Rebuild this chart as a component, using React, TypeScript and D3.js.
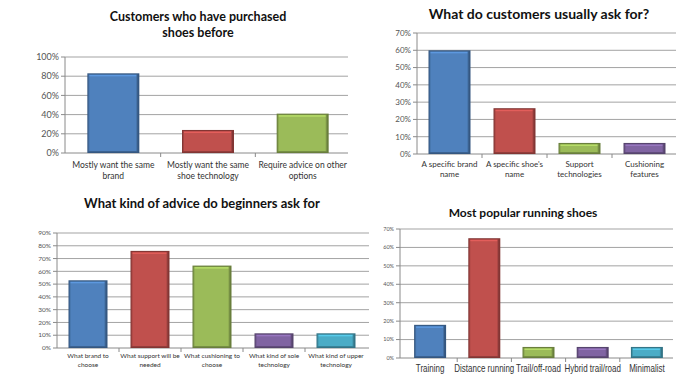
import React from "react";
import * as d3 from "d3";

// ---------- DATA ----------
const p1Title = ["Customers who have purchased", "shoes before"];
const p1Categories = ["Mostly want the same\nbrand", "Mostly want the same\nshoe technology", "Require advice on other\noptions"];
const p1Values = [0.83, 0.24, 0.41];
const p1Ticks = [0, 0.2, 0.4, 0.6, 0.8, 1.0];

const p2Title = ["What do customers usually ask for?"];
const p2Categories = ["A specific brand\nname", "A specific shoe's\nname", "Support\ntechnologies", "Cushioning\nfeatures"];
const p2Values = [0.6, 0.265, 0.064, 0.064];
const p2Ticks = [0, 0.1, 0.2, 0.3, 0.4, 0.5, 0.6, 0.7];

const p3Title = ["What kind of advice do beginners ask for"];
const p3Categories = ["What brand to\nchoose", "What support will be\nneeded", "What cushioning to\nchoose", "What kind of sole\ntechnology", "What kind of upper\ntechnology"];
const p3Values = [0.53, 0.76, 0.645, 0.115, 0.115];
const p3Ticks = [0, 0.1, 0.2, 0.3, 0.4, 0.5, 0.6, 0.7, 0.8, 0.9];

const p4Title = ["Most popular running shoes"];
const p4Categories = ["Training", "Distance running", "Trail/off-road", "Hybrid trail/road", "Minimalist"];
const p4Values = [0.18, 0.65, 0.06, 0.06, 0.06];
const p4Ticks = [0, 0.1, 0.2, 0.3, 0.4, 0.5, 0.6, 0.7];

const palette = ["#4F81BD", "#C0504D", "#9BBB59", "#8064A2", "#4BACC6"];

type PanelProps = {
  title: string[];
  categories: string[];
  values: number[];
  ticks: number[];
  colors: string[];
  axisX: number;
  bandRange: [number, number];
  gridRight: number;
  yRange: [number, number]; // [bottom, top]
  barWidth: number;
  tickFont: number;
  catFont: number;
  catBaseline: number;
  catLineGap: number;
  catFamily?: string;
  catScaleX?: number;
  titleX: number;
  titleBaseline: number;
  titleFont: number;
  titleLineGap: number;
};

function Bar({ x, y, w, h, color }: { x: number; y: number; w: number; h: number; color: string }) {
  const dark = d3.color(color)!.darker(1.1).formatHex();
  const mid = d3.color(color)!.darker(0.45).formatHex();
  const light = d3.color(color)!.brighter(0.6).formatHex();
  return (
    <g>
      <rect x={x} y={y} width={w} height={h} fill={dark} />
      <rect x={x + 1} y={y + 1} width={Math.max(0, w - 3)} height={Math.max(0, h - 2.5)} fill={mid} />
      <rect x={x + 2} y={y + 2} width={Math.max(0, w - 5)} height={Math.max(0, h - 4)} fill={color} />
      <rect x={x + 2} y={y + 1.5} width={Math.max(0, w - 5)} height={1.5} fill={light} opacity={0.8} />
    </g>
  );
}

function Panel(p: PanelProps) {
  const maxV = p.ticks[p.ticks.length - 1];
  const y = d3.scaleLinear().domain([0, maxV]).range(p.yRange);
  const x = d3.scaleBand<string>().domain(p.categories).range(p.bandRange).paddingInner(0).paddingOuter(0);
  const fmt = d3.format(".0%");
  const base = p.yRange[0];
  const fam = p.catFamily || "Lato, 'Open Sans', sans-serif";
  return (
    <g>
      {p.title.map((t, i) => (
        <text key={i} x={p.titleX} y={p.titleBaseline + i * p.titleLineGap} textAnchor="middle"
          fontFamily="Lato, 'Open Sans', sans-serif" fontWeight="bold" fontSize={p.titleFont} fill="#111">
          {t}
        </text>
      ))}
      {p.ticks.map((t) => (
        <g key={t}>
          {t > 0 && <line x1={p.axisX} x2={p.gridRight} y1={y(t)} y2={y(t)} stroke="#a3a3a3" strokeWidth={1} />}
          <line x1={p.axisX - 4} x2={p.axisX} y1={y(t)} y2={y(t)} stroke="#8a8a8a" strokeWidth={1} />
          <text x={p.axisX - 6} y={y(t)} dy="0.35em" textAnchor="end" fontFamily="Lato, 'Open Sans', sans-serif"
            fontSize={p.tickFont} fill="#555">
            {fmt(t)}
          </text>
        </g>
      ))}
      <line x1={p.axisX} x2={p.axisX} y1={y(maxV)} y2={base} stroke="#8a8a8a" strokeWidth={1} />
      <line x1={p.axisX} x2={p.gridRight} y1={base} y2={base} stroke="#8a8a8a" strokeWidth={1} />
      {p.categories.map((c, i) => {
        const bx = x(c)!;
        return i > 0 ? (
          <line key={"tk" + i} x1={bx} x2={bx} y1={base} y2={base + 4} stroke="#8a8a8a" strokeWidth={1} />
        ) : null;
      })}
      {p.categories.map((c, i) => {
        const cx = x(c)! + x.bandwidth() / 2;
        const top = y(p.values[i]);
        return <Bar key={"b" + i} x={cx - p.barWidth / 2} y={top} w={p.barWidth} h={base - top} color={p.colors[i]} />;
      })}
      {p.categories.map((c, i) => {
        const cx = x(c)! + x.bandwidth() / 2;
        const lines = c.split("\n");
        const sx = p.catScaleX || 1;
        return (
          <text key={"c" + i} transform={`translate(${cx},0) scale(${sx},1)`} textAnchor="middle"
            fontFamily={fam} fontSize={p.catFont} fill="#333">
            {lines.map((l, j) => (
              <tspan key={j} x={0} y={p.catBaseline + j * p.catLineGap}>{l}</tspan>
            ))}
          </text>
        );
      })}
    </g>
  );
}

export default function App() {
  return (
    <div style={{ position: "absolute", left: 0, top: 0, width: 696, height: 380, background: "#fff" }}>
      <svg width={696} height={380} style={{ display: "block" }}>
        <rect width={696} height={380} fill="#fff" />
        <Panel title={p1Title} categories={p1Categories} values={p1Values} ticks={p1Ticks} colors={palette}
          axisX={65} bandRange={[66, 350]} gridRight={348} yRange={[153, 57]} barWidth={52}
          tickFont={9} catFont={8.5} catBaseline={168} catLineGap={10.5}
          titleX={198} titleBaseline={21} titleFont={12.5} titleLineGap={16} />
        <Panel title={p2Title} categories={p2Categories} values={p2Values} ticks={p2Ticks} colors={[palette[0], palette[1], palette[2], palette[3]]}
          axisX={417} bandRange={[417, 677]} gridRight={676} yRange={[154, 33]} barWidth={42}
          tickFont={8} catFont={8} catBaseline={167} catLineGap={9.5}
          titleX={539} titleBaseline={19} titleFont={14} titleLineGap={16} />
        <Panel title={p3Title} categories={p3Categories} values={p3Values} ticks={p3Ticks} colors={palette}
          axisX={57} bandRange={[57, 367]} gridRight={369} yRange={[348, 233]} barWidth={39}
          tickFont={6.5} catFont={6.5} catBaseline={358} catLineGap={8.5}
          titleX={202} titleBaseline={208} titleFont={13} titleLineGap={16} />
        <Panel title={p4Title} categories={p4Categories} values={p4Values} ticks={p4Ticks} colors={palette}
          axisX={400} bandRange={[403, 674]} gridRight={673} yRange={[358, 229]} barWidth={32}
          tickFont={5.5} catFont={10} catBaseline={372} catLineGap={10}
          catFamily="'Liberation Sans', Arial, sans-serif" catScaleX={0.8}
          titleX={523} titleBaseline={217} titleFont={12} titleLineGap={16} />
      </svg>
    </div>
  );
}
